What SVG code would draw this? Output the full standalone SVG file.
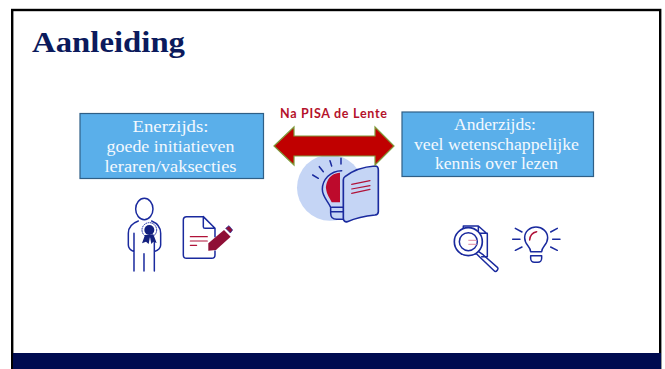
<svg xmlns="http://www.w3.org/2000/svg" width="665" height="369" viewBox="0 0 665 369">
<style>
.box{fill:#5aafea;stroke:#2f5f86;stroke-width:1.2}
.bt{font-family:"Liberation Serif","DejaVu Serif",serif;font-size:17px;fill:#f4f9fe;text-anchor:middle}
.ln{fill:none;stroke:#1a2a9e;stroke-linecap:round;stroke-linejoin:round;stroke-width:4.500}
.rd{fill:none;stroke:#b01238;stroke-linecap:round;stroke-width:3.500}
</style>
<rect width="665" height="369" fill="#fff"/>
<rect x="12.200" y="10" width="648" height="359" fill="#fff" stroke="#000" stroke-width="2.400"/>
<rect id="footer" x="13" y="353" width="648" height="16" fill="#000b50"/>
<text id="title" x="32" y="52" font-family="'Liberation Serif','DejaVu Serif',serif" font-weight="700" font-size="29" fill="#0b1a5c" textLength="153" lengthAdjust="spacingAndGlyphs">Aanleiding</text>

<g id="center-icon" transform="translate(290 150) scale(.3333)">
<circle cx="120" cy="113" r="99" fill="#c5d5f5"/>
<path d="M150 68C115 70 108 100 108 115C110 135 120 145 125 157H150Z" fill="#bd0a2c"/>
<path class="ln" d="M68 75L85 85M88 50L100 65M120 32L125 48M153 25V42M155 62C120 62 97 90 97 118C97 140 112 150 122 172V190C122 200 128 208 140 208H160M125 172H158M125 185H158"/>
<path d="M165 80C190 60 225 50 255 48C262 48 265 52 265 60V185C265 192 262 194 255 195C225 198 195 205 172 215C165 217 160 212 160 205V90C160 85 162 82 165 80Z" fill="#c5d5f5" stroke="#1a2a9e" stroke-width="5"/>
<path class="rd" d="M185 103L240 92M185 117L240 107M185 130L240 118" stroke-width="4"/>
</g>

<g id="arrow">
<path d="M274 146L294 127V136H375V127L394 146L375 165V156H294V165Z" fill="#c00000" stroke="#7f9a3a" stroke-width="1.200"/>
</g>
<text id="arrow-label" x="333.500" y="118" text-anchor="middle" font-family="'Lato','Noto Sans',sans-serif" font-weight="700" font-size="12.500" fill="#b5122b" textLength="107" lengthAdjust="spacing">Na PISA de Lente</text>

<g id="box-left">
<rect class="box" x="80" y="113.500" width="183.500" height="65"/>
<text class="bt" x="170.500" y="132" textLength="76" lengthAdjust="spacingAndGlyphs">Enerzijds:</text>
<text class="bt" x="170.500" y="152" textLength="128" lengthAdjust="spacingAndGlyphs">goede initiatieven</text>
<text class="bt" x="170.500" y="171.500" textLength="132" lengthAdjust="spacingAndGlyphs">leraren/vaksecties</text>
</g>
<g id="box-right">
<rect class="box" x="402" y="112" width="191.500" height="64.500"/>
<text class="bt" x="495" y="130" textLength="82" lengthAdjust="spacingAndGlyphs">Anderzijds:</text>
<text class="bt" x="496.500" y="149.500" textLength="165" lengthAdjust="spacingAndGlyphs">veel wetenschappelijke</text>
<text class="bt" x="496.500" y="169" textLength="123" lengthAdjust="spacingAndGlyphs">kennis over lezen</text>
</g>

<g id="person" transform="translate(70 95) scale(.3333)">
<ellipse class="ln" cx="223" cy="342" rx="26" ry="32"/>
<path class="ln" d="M205 378C185 385 175 395 175 415V450C175 460 182 466 192 470M192 415V528M222 476V528M253 470V528M245 378C262 385 272 395 272 415V450C272 460 264 466 253 470M253 440V470"/>
<circle cx="238" cy="405" r="22" fill="#fff" stroke="#1a2a9e" stroke-width="3" stroke-dasharray="5 2"/>
<path d="M225 420L216 445L228 440L236 447L240 425L244 447L250 440L260 444L250 418Z" fill="#13207f"/>
<circle cx="238" cy="405" r="15" fill="#13207f"/>
</g>

<g id="document" transform="translate(70 95) scale(.3333)">
<path class="ln" d="M400 365H350C344 365 340 369 340 375V480C340 486 344 490 350 490H425C431 490 435 486 435 480V468M435 425V400L400 365V395C400 398 402 400 405 400H435"/>
<path class="rd" d="M361 425H412M361 438H412M361 451H380"/>
<path d="M415 467V445L462 405L482 425L438 465Z" fill="#8f0f36"/>
<path d="M467 400L477 392L488 405L481 414Z" fill="#8f0f36" stroke="#1a2a9e" stroke-width="2"/>
</g>

<g id="magnifier" transform="translate(400 100) scale(.3333)">
<path class="ln" d="M190 388V378H235L262 402V470H245M235 378V400H262"/>
<circle cx="205" cy="425" r="42" fill="#fff" stroke="#1a2a9e" stroke-width="5"/>
<circle cx="205" cy="425" r="27" fill="#fff" stroke="#1a2a9e" stroke-width="4.500"/>
<path d="M205 421H230M205 433H230" fill="none" stroke="#e3a0b4" stroke-width="3.500"/>
<path class="ln" d="M236 455L250 465L293 503C296 507 290 516 284 514L240 472L230 462"/>
</g>

<g id="bulb" transform="translate(400 100) scale(.3333)">
<path class="ln" d="M392 455C392 440 374 435 374 413C374 395 390 381 408 381C427 381 443 395 443 413C443 435 425 440 425 455ZM392 467H425V475C425 482 420 487 414 487H403C397 487 392 482 392 475Z"/>
<path d="M389 420C390 405 400 397 410 395" fill="none" stroke="#b01238" stroke-width="4.500" stroke-linecap="round"/>
<path class="ln" d="M346 385L366 396M338 418H360M346 451L366 441M472 385L452 396M480 418H458M472 451L452 441"/>
</g>
</svg>
